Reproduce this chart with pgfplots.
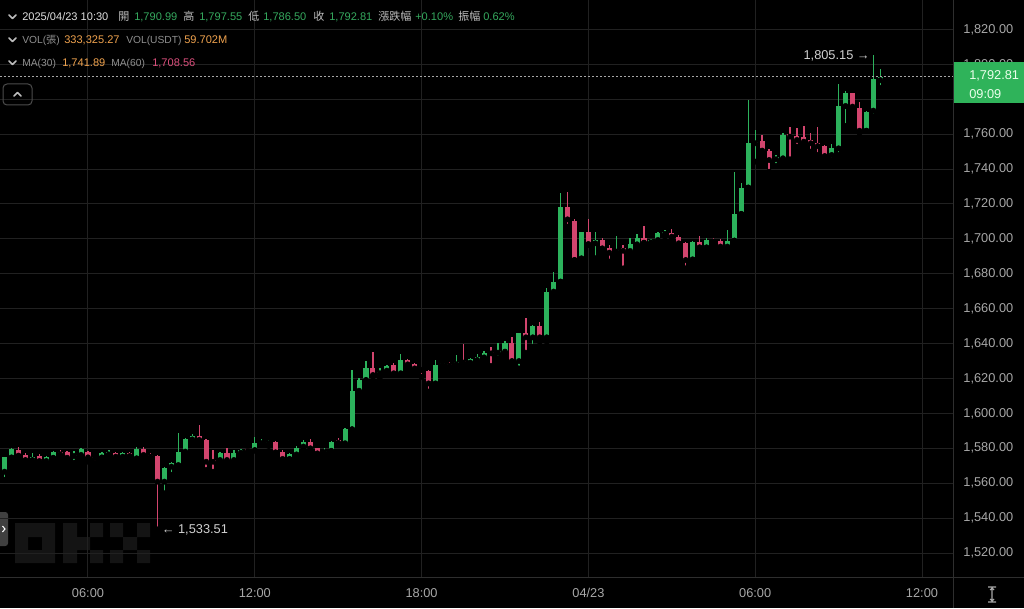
\documentclass[border=0pt]{standalone}
\usepackage{fontspec}
\setmainfont{Liberation Sans}
\newfontfamily\cjk{Noto Sans CJK TC}
\usepackage{pgfplots}
\pgfplotsset{compat=1.18}
\usepackage{pgfplotstable}

\definecolor{up}{HTML}{2CB25C}
\definecolor{down}{HTML}{D2456E}
\definecolor{gridc}{HTML}{212121}
\definecolor{sepc}{HTML}{2E2E2E}
\definecolor{lbl}{HTML}{A8A8A8}
\definecolor{hdrtxt}{HTML}{BDBDBD}
\definecolor{hdrgray}{HTML}{8F8F8F}
\definecolor{hdrgreen}{HTML}{35A95E}
\definecolor{volorange}{HTML}{EFA24E}
\definecolor{mapink}{HTML}{DB4F7C}
\definecolor{boxgreen}{HTML}{2FB35A}
\definecolor{wmark}{HTML}{141414}

% 15-minute candles, i = quarter hours since 04/22 00:00
\pgfplotstableread{
i o h l c
12 1566.6 1575.2 1561.8 1574.8
13 1574.8 1580.0 1574.6 1579.4
14 1579.0 1580.9 1575.5 1575.8
15 1576.2 1577.1 1572.0 1573.3
16 1573.3 1577.1 1572.3 1575.2
17 1575.6 1576.5 1571.8 1572.7
18 1572.7 1575.6 1571.4 1575.2
19 1574.6 1578.5 1574.3 1578.1
20 1578.1 1579.0 1575.2 1576.5
21 1577.7 1578.6 1573.9 1574.6
22 1575.6 1578.5 1571.8 1576.2
23 1576.2 1580.0 1575.6 1579.4
24 1578.1 1578.5 1572.3 1574.8
25 1574.8 1575.2 1571.4 1574.3
26 1574.8 1578.1 1574.6 1577.1
27 1576.5 1579.0 1576.2 1578.1
28 1577.5 1578.1 1572.3 1575.2
29 1575.2 1578.1 1574.8 1577.5
30 1577.5 1578.1 1574.8 1575.6
31 1574.3 1580.6 1573.7 1579.4
32 1579.4 1580.6 1574.3 1576.2
33 1576.2 1577.5 1573.7 1575.2
34 1575.6 1576.2 1533.51 1560.9
35 1560.9 1569.1 1554.2 1568.5
36 1569.5 1572.3 1564.7 1571.4
37 1570.4 1589.0 1569.9 1578.1
38 1578.1 1585.7 1577.1 1585.1
39 1585.1 1588.2 1583.8 1587.0
40 1587.0 1593.4 1584.4 1584.8
41 1584.8 1585.1 1567.6 1572.3
42 1573.3 1579.0 1566.6 1572.3
43 1573.3 1578.1 1571.4 1577.1
44 1577.1 1580.0 1571.4 1573.3
45 1573.3 1579.0 1572.3 1577.5
46 1577.5 1579.4 1574.8 1579.0
47 1579.4 1580.4 1577.1 1578.5
48 1579.0 1586.7 1578.6 1583.2
49 1582.9 1585.1 1581.9 1583.8
50 1582.9 1584.8 1581.3 1583.6
51 1583.8 1584.2 1577.5 1577.7
52 1577.7 1579.0 1572.9 1573.9
53 1573.9 1577.1 1573.7 1576.5
54 1576.5 1581.3 1575.6 1580.4
55 1581.0 1584.8 1580.0 1583.8
56 1583.8 1585.1 1579.4 1580.0
57 1580.0 1580.4 1576.7 1577.1
58 1577.7 1580.0 1574.8 1578.5
59 1578.6 1584.4 1578.1 1583.8
60 1584.8 1585.7 1582.5 1583.2
61 1582.9 1591.4 1581.9 1590.9
62 1590.9 1624.9 1590.9 1613.0
63 1613.0 1620.5 1612.5 1619.1
64 1619.1 1630.2 1619.1 1625.8
65 1625.8 1635.4 1621.0 1622.0
66 1623.0 1625.8 1620.5 1623.9
67 1624.5 1627.7 1623.9 1627.2
68 1627.7 1628.7 1622.6 1623.0
69 1623.0 1634.0 1622.0 1630.6
70 1630.6 1631.0 1626.4 1628.1
71 1628.1 1629.1 1623.9 1625.8
72 1625.4 1625.8 1621.0 1624.9
73 1624.5 1624.9 1612.5 1617.2
74 1617.2 1630.6 1616.6 1627.7
75 1628.0 1629.6 1626.8 1628.5
76 1628.3 1629.6 1625.8 1627.4
77 1628.1 1633.5 1627.7 1629.6
78 1630.2 1639.8 1627.7 1629.1
79 1629.1 1631.6 1628.7 1631.0
80 1630.6 1634.0 1629.1 1632.5
81 1632.1 1635.9 1631.6 1634.8
82 1634.8 1638.2 1627.2 1634.4
83 1634.8 1640.5 1631.6 1635.8
84 1635.4 1641.7 1633.5 1640.2
85 1640.5 1644.0 1629.7 1630.0
86 1630.0 1646.3 1625.8 1645.9
87 1645.9 1654.9 1634.8 1643.6
88 1643.6 1650.7 1638.2 1650.1
89 1650.1 1652.6 1641.1 1643.6
90 1643.6 1672.0 1641.1 1669.8
91 1669.8 1681.2 1668.0 1675.5
92 1675.5 1726.5 1675.5 1718.1
93 1718.1 1727.1 1707.0 1711.2
94 1710.4 1711.2 1687.9 1687.9
95 1688.9 1704.2 1688.3 1703.8
96 1703.8 1711.2 1696.5 1697.1
97 1697.5 1704.2 1688.9 1699.4
98 1699.4 1700.3 1693.6 1694.6
99 1694.6 1696.5 1687.0 1692.1
100 1692.7 1701.7 1692.1 1693.6
101 1694.6 1696.5 1683.1 1693.2
102 1693.1 1700.3 1692.1 1696.9
103 1696.9 1702.6 1695.6 1700.7
104 1700.7 1707.4 1697.8 1697.8
105 1698.0 1699.8 1695.9 1699.4
106 1699.4 1704.2 1698.4 1703.6
107 1702.8 1705.1 1701.3 1704.0
108 1703.6 1705.5 1700.3 1701.3
109 1701.3 1702.2 1695.9 1697.5
110 1697.5 1698.4 1683.1 1687.9
111 1688.3 1699.0 1685.6 1698.4
112 1698.4 1701.7 1694.6 1695.2
113 1695.2 1700.3 1692.7 1699.4
114 1699.0 1700.3 1697.5 1698.4
115 1699.0 1699.8 1694.0 1695.6
116 1695.6 1705.1 1694.6 1699.0
117 1699.0 1738.5 1699.0 1714.3
118 1714.3 1731.8 1714.3 1729.4
119 1729.4 1779.6 1729.4 1754.8
120 1754.8 1762.4 1744.3 1755.7
121 1756.3 1759.5 1749.0 1750.6
122 1750.6 1751.3 1738.5 1745.2
123 1745.6 1748.1 1741.8 1746.8
124 1746.2 1760.5 1745.6 1759.5
125 1759.9 1763.9 1745.6 1758.6
126 1759.0 1763.4 1752.9 1756.7
127 1758.6 1764.7 1754.8 1755.7
128 1756.7 1760.5 1750.0 1754.8
129 1755.2 1763.9 1748.1 1753.2
130 1753.2 1753.8 1746.8 1747.5
131 1748.1 1754.4 1744.8 1751.9
132 1751.9 1788.8 1748.1 1776.2
133 1776.2 1784.9 1764.7 1783.4
134 1783.4 1783.8 1774.8 1775.8
135 1774.8 1778.6 1759.0 1762.0
136 1762.0 1773.5 1762.0 1772.9
137 1773.5 1805.15 1770.1 1791.5
138 1790.99 1797.55 1786.50 1792.81
}\candles

\begin{document}
\begin{tikzpicture}[
  hdr/.style={anchor=base west, inner sep=0pt, font=\fontsize{8.3}{10}\selectfont},
  hdrl/.style={anchor=base west, inner sep=0pt, font=\fontsize{7.7}{10}\selectfont},
  chev/.style={draw=hdrtxt, line width=1.1pt, line cap=round, line join=round}]
\useasboundingbox (0,0) rectangle (768pt,456pt);
\fill[black] (0,0) rectangle (768pt,456pt);

% watermark, left tab (pixel coordinates, origin top left)
\begin{scope}[x=0.75pt, y=-0.75pt, yshift=456pt]
  \fill[wmark, even odd rule] (15,523) rectangle (55,563) (28,537) rectangle (42,550);
  \fill[wmark] (63,523) rectangle (77,563) (77,537) rectangle (90,550)
    (90,523) rectangle (103,537) (90,550) rectangle (103,563);
  \fill[wmark] (110,523) rectangle (123,537) (137,523) rectangle (150,537)
    (123,537) rectangle (137,550) (110,550) rectangle (123,563) (137,550) rectangle (150,563);
  \fill[black!75, rounded corners=2pt] (-4,512) rectangle (8,546);
  \draw[white, line width=0.8pt] (2.5,526) -- (5,529) -- (2.5,532);
\end{scope}

\begin{axis}[
  at={(0pt,23.25pt)}, anchor=south west,
  scale only axis, width=714.75pt, height=432.75pt,
  xmin=11.34, xmax=148.46, ymin=1506.25, ymax=1836.9,
  axis line style={draw=none},
  major tick length=0pt,
  xtick={24,48,72,96,120,144},
  xticklabels={06:00,12:00,18:00,04/23,06:00,12:00},
  ytick={1520,1540,...,1760,1800,1820},
  extra y ticks={1780}, extra y tick labels={},
  extra y tick style={grid=major},
  yticklabel pos=right,
  grid=major,
  major grid style={gridc, line width=0.75pt},
  tick label style={lbl, font=\fontsize{9.6}{11}\selectfont},
  xticklabel style={anchor=center, yshift=-12pt},
  yticklabel style={anchor=center, xshift=26.5pt,
    /pgf/number format/.cd, fixed, fixed zerofill, precision=2,
    1000 sep={,}, assume math mode=true},
]
  % wicks
  \addplot[only marks, mark=none,
    restrict expr to domain={\thisrow{c}-\thisrow{o}}{0:1000},
    error bars/.cd, y dir=plus, y explicit, error mark=none,
    error bar style={up, line width=1pt}]
    table[x=i, y=l, y error expr={\thisrow{h}-\thisrow{l}}] {\candles};
  \addplot[only marks, mark=none,
    restrict expr to domain={\thisrow{c}-\thisrow{o}}{-1000:-0.001},
    error bars/.cd, y dir=plus, y explicit, error mark=none,
    error bar style={down, line width=1pt}]
    table[x=i, y=l, y error expr={\thisrow{h}-\thisrow{l}}] {\candles};
  % bodies
  \addplot[only marks, mark=none,
    restrict expr to domain={\thisrow{c}-\thisrow{o}}{0:1000},
    error bars/.cd, y dir=plus, y explicit, error mark=none,
    error bar style={up, line width=3.8pt}]
    table[x=i, y=o, y error expr={max(\thisrow{c}-\thisrow{o},0.6)}] {\candles};
  \addplot[only marks, mark=none,
    restrict expr to domain={\thisrow{c}-\thisrow{o}}{-1000:-0.001},
    error bars/.cd, y dir=plus, y explicit, error mark=none,
    error bar style={down, line width=3.8pt}]
    table[x=i, y=c, y error expr={max(\thisrow{o}-\thisrow{c},0.6)}] {\candles};

  % last price line and extremes
  \draw[gray!70, line width=0.75pt, dash pattern=on 1.2pt off 1.8pt]
    (axis cs:11.34,1792.81) -- (axis cs:148.46,1792.81);
  \node[anchor=east, inner sep=0pt, xshift=-2.5pt, text=black!18,
    font=\fontsize{9.6}{11}\selectfont] at (axis cs:137,1805.15) {1,805.15 →};
  \node[anchor=west, inner sep=0pt, xshift=3pt, text=black!18,
    font=\fontsize{9.6}{11}\selectfont] at (axis cs:34,1533.51) {← 1,533.51};
\end{axis}

\begin{scope}[x=0.75pt, y=-0.75pt, yshift=456pt]
  \draw[sepc, line width=0.75pt] (0,577) -- (1024,577);
  \draw[sepc, line width=0.75pt] (953,0) -- (953,608);
  % last price box
  \fill[boxgreen] (953.5,62) rectangle (1024,103);
  \node[anchor=west, inner sep=0pt, text=green!8!white, font=\fontsize{9.6}{11}\selectfont] at (969,76) {1,792.81};
  \node[anchor=west, inner sep=0pt, text=green!8!white, font=\fontsize{9.6}{11}\selectfont] at (969,94) {09:09};
  % scale icon
  \draw[lbl, line width=0.8pt] (992,588) -- (992,601) (988,587) -- (996,587) (988,602) -- (996,602)
    (990,590) -- (992,588) -- (994,590) (990,599) -- (992,601) -- (994,599);
  % collapse button
  \draw[black!70, line width=0.75pt, rounded corners=3pt] (3,84) rectangle (32,105);
  \draw[chev] (14,96) -- (17.5,92.5) -- (21,96);
  % header chevrons
  \draw[chev] (9,15) -- (12.5,18.5) -- (16,15);
  \draw[chev] (9,38) -- (12.5,41.5) -- (16,38);
  \draw[chev] (9,61) -- (12.5,64.5) -- (16,61);
  % header line 1
  \node[hdr, text=black!12] at (22,21) {2025/04/23 10:30};
  \node[hdr, text=hdrtxt] at (118,21) {\cjk 開};
  \node[hdr, text=hdrgreen] at (134,21) {1,790.99};
  \node[hdr, text=hdrtxt] at (183,21) {\cjk 高};
  \node[hdr, text=hdrgreen] at (199,21) {1,797.55};
  \node[hdr, text=hdrtxt] at (248,21) {\cjk 低};
  \node[hdr, text=hdrgreen] at (263,21) {1,786.50};
  \node[hdr, text=hdrtxt] at (313,21) {\cjk 收};
  \node[hdr, text=hdrgreen] at (329,21) {1,792.81};
  \node[hdr, text=hdrtxt] at (378,21) {\cjk 漲跌幅};
  \node[hdr, text=hdrgreen] at (415,21) {+0.10\%};
  \node[hdr, text=hdrtxt] at (458,21) {\cjk 振幅};
  \node[hdr, text=hdrgreen] at (483,21) {0.62\%};
  % header line 2
  \node[hdrl, text=hdrgray] at (22,44) {VOL({\cjk 張})};
  \node[hdr, text=volorange] at (64,44) {333,325.27};
  \node[hdrl, text=hdrgray] at (126,44) {VOL(USDT)};
  \node[hdr, text=volorange] at (184,44) {59.702M};
  % header line 3
  \node[hdrl, text=hdrgray] at (22,67) {MA(30)};
  \node[hdr, text=volorange] at (62,67) {1,741.89};
  \node[hdrl, text=hdrgray] at (111,67) {MA(60)};
  \node[hdr, text=mapink] at (152,67) {1,708.56};
\end{scope}
\end{tikzpicture}
\end{document}
